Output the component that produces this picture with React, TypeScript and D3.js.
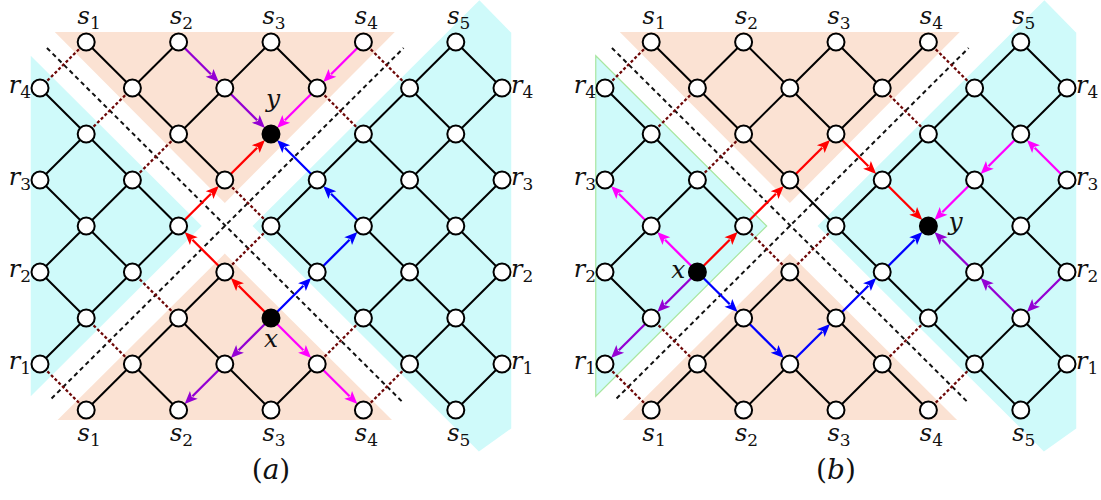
import React from "react";
import * as d3 from "d3";

type Pt = [number, number];

// Lattice: columns i = 0..10, rows j = 0..8, a node sits wherever i + j is odd.
const columns = [0, 1, 2, 3, 4, 5, 6, 7, 8, 9, 10];
const rows = [0, 1, 2, 3, 4, 5, 6, 7, 8];

// Port labels
const sColumns = [1, 3, 5, 7, 9];
const sLabels = ["1", "2", "3", "4", "5"];
const rRows = [1, 3, 5, 7];
const rLabels = ["4", "3", "2", "1"];

// Shaded regions, in lattice units
const topOrange: Pt[] = [[0.32, -0.22], [7.68, -0.22], [4, 3.5]];
const bottomOrange: Pt[] = [[0.38, 8.22], [7.62, 8.22], [4, 4.6]];
const leftCyan: Pt[] = [[-0.2, 0.3], [3.5, 4], [-0.2, 7.7]];
const rightCyan: Pt[] = [[4.6, 4], [9.51, -0.91], [10.2, -0.2], [10.2, 8.4], [9.5, 8.9]];

// Cut lines through the white bands
const cutLines: Pt[][] = [
  [[0.15, 0.13], [7.85, 7.83]],
  [[0.25, 7.75], [7.87, 0.13]],
];

// Panel (a) routes
const aSource: Pt = [5, 6];
const aTarget: Pt = [5, 2];
const aRed: Pt[] = [[5, 6], [4, 5], [3, 4], [4, 3], [5, 2]];
const aBlue: Pt[] = [[5, 6], [6, 5], [7, 4], [6, 3], [5, 2]];
const aMagenta: Pt[][] = [[[7, 0], [6, 1], [5, 2]], [[5, 6], [6, 7], [7, 8]]];
const aPurple: Pt[][] = [[[3, 0], [4, 1], [5, 2]], [[5, 6], [4, 7], [3, 8]]];
const aBridges: Pt[][] = [];

// Panel (b) routes
const bSource: Pt = [2, 5];
const bTarget: Pt = [7, 4];
const bRed: Pt[] = [[2, 5], [3, 4], [4, 3], [5, 2], [6, 3], [7, 4]];
const bBlue: Pt[] = [[2, 5], [3, 6], [4, 7], [5, 6], [6, 5], [7, 4]];
const bMagenta: Pt[][] = [[[2, 5], [1, 4], [0, 3]], [[10, 3], [9, 2], [8, 3], [7, 4]]];
const bPurple: Pt[][] = [[[2, 5], [1, 6], [0, 7]], [[10, 5], [9, 6], [8, 5], [7, 4]]];
const bBridges: Pt[][] = [[[4, 3], [5, 4]]];

const RED = "#ff0000";
const BLUE = "#0000ff";
const MAGENTA = "#ff00ff";
const PURPLE = "#9400d3";
const ORANGE_FILL = "#fbe2d3";
const CYAN_FILL = "#cffafa";
const CUT_RED = "#6e0808";

const R = 8.5;
const mathFont = "'DejaVu Serif', serif";

type PanelSpec = {
  x0: number;
  caption: string;
  source: Pt;
  target: Pt;
  routes: { color: string; path: Pt[] }[];
  bridges: Pt[][];
  greenEdge: boolean;
  xLabel: { dx: number; dy: number; anchor: string };
  yLabel: { dx: number; dy: number; anchor: string };
};

const panels: PanelSpec[] = [
  {
    x0: 40,
    caption: "a",
    source: aSource,
    target: aTarget,
    routes: [
      { color: RED, path: aRed },
      { color: BLUE, path: aBlue },
      ...aMagenta.map((p) => ({ color: MAGENTA, path: p })),
      ...aPurple.map((p) => ({ color: PURPLE, path: p })),
    ],
    bridges: aBridges,
    greenEdge: false,
    xLabel: { dx: 0, dy: 29, anchor: "middle" },
    yLabel: { dx: 2, dy: -27, anchor: "middle" },
  },
  {
    x0: 605,
    caption: "b",
    source: bSource,
    target: bTarget,
    routes: [
      { color: RED, path: bRed },
      { color: BLUE, path: bBlue },
      ...bMagenta.map((p) => ({ color: MAGENTA, path: p })),
      ...bPurple.map((p) => ({ color: PURPLE, path: p })),
    ],
    bridges: bBridges,
    greenEdge: true,
    xLabel: { dx: -12, dy: 6, anchor: "end" },
    yLabel: { dx: 20, dy: 4, anchor: "start" },
  },
];

const key = (a: Pt, b: Pt) => {
  const s = [`${a[0]},${a[1]}`, `${b[0]},${b[1]}`].sort();
  return s.join("|");
};

function Label({ x, y, letter, sub, anchor }: { x: number; y: number; letter: string; sub: string; anchor: string }) {
  return (
    <text x={x} y={y} textAnchor={anchor} fontFamily={mathFont} fill="#111">
      <tspan fontStyle="italic" fontSize={24}>{letter}</tspan>
      <tspan fontSize={17} dy={5}>{sub}</tspan>
    </text>
  );
}

function Panel({ spec }: { spec: PanelSpec }) {
  const xs = d3.scaleLinear().domain([0, 10]).range([spec.x0, spec.x0 + 462]);
  const ys = d3.scaleLinear().domain([0, 8]).range([42, 410]);
  const px = (p: Pt): [number, number] => [xs(p[0]), ys(p[1])];

  const nodes: Pt[] = [];
  rows.forEach((j) => columns.forEach((i) => { if ((i + j) % 2 === 1) nodes.push([i, j]); }));

  const routeEdges = new Set<string>();
  spec.routes.forEach((r) => r.path.slice(1).forEach((p, k) => routeEdges.add(key(r.path[k], p))));
  const bridgeEdges = new Set(spec.bridges.map((b) => key(b[0], b[1])));

  const edges: { a: Pt; b: Pt; cut: boolean }[] = [];
  nodes.forEach((n) => {
    [[1, 1], [1, -1]].forEach(([di, dj]) => {
      const m: Pt = [n[0] + di, n[1] + dj];
      if (m[0] > 10 || m[1] < 0 || m[1] > 8) return;
      const k = key(n, m);
      if (routeEdges.has(k)) return;
      const dA = n[0] - n[1], dB = m[0] - m[1];
      const sA = n[0] + n[1], sB = m[0] + m[1];
      const crosses = dA * dB < 0 || (Math.min(sA, sB) === 7 && Math.max(sA, sB) === 9);
      edges.push({ a: n, b: m, cut: crosses && !bridgeEdges.has(k) });
    });
  });

  const line = d3.line<Pt>().x((p) => xs(p[0])).y((p) => ys(p[1]));
  const poly = (pts: Pt[]) => line(pts) + "Z";

  const arrows: JSX.Element[] = [];
  spec.routes.forEach((r, ri) => {
    r.path.slice(1).forEach((p, k) => {
      const [ax, ay] = px(r.path[k]);
      const [bx, by] = px(p);
      const len = Math.hypot(bx - ax, by - ay);
      const ux = (bx - ax) / len, uy = (by - ay) / len;
      const sx = ax + ux * R, sy = ay + uy * R;
      const tx = bx - ux * R, ty = by - uy * R;
      const L = 13, W = 5.5;
      const bxx = tx - ux * L, byy = ty - uy * L;
      arrows.push(
        <g key={`ar${ri}-${k}`}>
          <line x1={sx} y1={sy} x2={bxx + ux * 2} y2={byy + uy * 2} stroke={r.color} strokeWidth={2.3} />
          <path
            d={`M${tx},${ty}L${bxx - uy * W},${byy + ux * W}L${bxx + ux * 3},${byy + uy * 3}L${bxx + uy * W},${byy - ux * W}Z`}
            fill={r.color}
          />
        </g>
      );
    });
  });

  const [sxp, syp] = px(spec.source);
  const [txp, typ] = px(spec.target);

  return (
    <g>
      <path d={poly(topOrange)} fill={ORANGE_FILL} />
      <path d={poly(bottomOrange)} fill={ORANGE_FILL} />
      <path d={poly(leftCyan)} fill={CYAN_FILL} stroke={spec.greenEdge ? "#a8e6a0" : "none"} strokeWidth={1.2} />
      <path d={poly(rightCyan)} fill={CYAN_FILL} />

      {cutLines.map((l, k) => (
        <path key={`cl${k}`} d={line(l) ?? ""} stroke="#111" strokeWidth={2} strokeDasharray="4.5,3.5" fill="none" />
      ))}

      {edges.map((e, k) => {
        const [x1, y1] = px(e.a);
        const [x2, y2] = px(e.b);
        return e.cut ? (
          <line key={`e${k}`} x1={x1} y1={y1} x2={x2} y2={y2} stroke={CUT_RED} strokeWidth={2.3} strokeDasharray="3,2.2" />
        ) : (
          <line key={`e${k}`} x1={x1} y1={y1} x2={x2} y2={y2} stroke="#000" strokeWidth={2} />
        );
      })}

      {arrows}

      {nodes.map((n, k) => {
        const [cx, cy] = px(n);
        const filled = (n[0] === spec.source[0] && n[1] === spec.source[1]) || (n[0] === spec.target[0] && n[1] === spec.target[1]);
        return <circle key={`n${k}`} cx={cx} cy={cy} r={R} fill={filled ? "#000" : "#fff"} stroke="#000" strokeWidth={2} />;
      })}

      {sColumns.map((i, k) => (
        <g key={`s${k}`}>
          <Label x={xs(i) + 3} y={ys(0) - 18} letter="s" sub={sLabels[k]} anchor="middle" />
          <Label x={xs(i) + 3} y={ys(8) + 31} letter="s" sub={sLabels[k]} anchor="middle" />
        </g>
      ))}
      {rRows.map((j, k) => (
        <g key={`r${k}`}>
          <Label x={xs(0) - 9} y={ys(j) + 5} letter="r" sub={rLabels[k]} anchor="end" />
          <Label x={xs(10) + 9} y={ys(j) + 5} letter="r" sub={rLabels[k]} anchor="start" />
        </g>
      ))}

      <text x={sxp + spec.xLabel.dx} y={syp + spec.xLabel.dy} textAnchor={spec.xLabel.anchor} fontFamily={mathFont} fontStyle="italic" fontSize={25} fill="#111">x</text>
      <text x={txp + spec.yLabel.dx} y={typ + spec.yLabel.dy} textAnchor={spec.yLabel.anchor} fontFamily={mathFont} fontStyle="italic" fontSize={25} fill="#111">y</text>

      <text x={xs(5)} y={479} textAnchor="middle" fontFamily={mathFont} fontSize={28} fill="#111">
        (<tspan fontStyle="italic">{spec.caption}</tspan>)
      </text>
    </g>
  );
}

export default function App() {
  return (
    <svg width={1101} height={500} viewBox="0 0 1101 500" style={{ position: "absolute", left: 0, top: 0, background: "#fff" }}>
      <rect width={1101} height={500} fill="#fff" />
      {panels.map((p, k) => (
        <Panel key={k} spec={p} />
      ))}
    </svg>
  );
}
